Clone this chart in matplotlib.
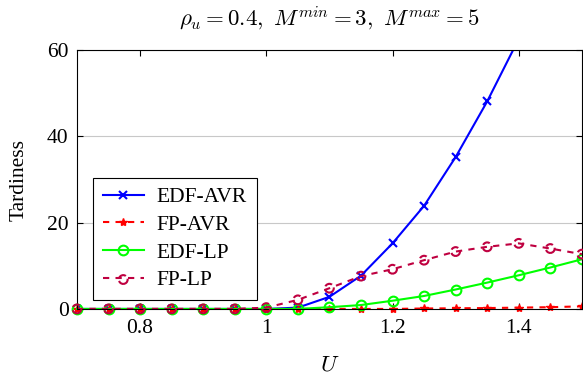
import numpy as np
import matplotlib.pyplot as plt
from matplotlib.legend_handler import HandlerTuple

plt.rcParams['font.family'] = ['Liberation Serif', 'DejaVu Serif']
plt.rcParams['mathtext.fontset'] = 'cm'

# data
u = [0.7, 0.75, 0.8, 0.85, 0.9, 0.95, 1.0, 1.05, 1.1, 1.15,
     1.2, 1.25, 1.3, 1.35, 1.4, 1.45, 1.5]
edf_avr = [0, 0, 0, 0, 0, 0, 0, 0.3, 2.8, 7.7,
           15.2, 23.9, 35.2, 48.1, 62.6, 78.5, 95.5]
fp_avr = [0, 0, 0, 0, 0, 0, 0, 0, 0, 0,
          0, 0.1, 0.15, 0.2, 0.3, 0.4, 0.6]
edf_lp = [0, 0, 0, 0, 0, 0, 0, 0, 0.4, 0.9,
          1.9, 3.0, 4.5, 6.1, 7.8, 9.6, 11.5]
fp_lp = [0, 0, 0, 0, 0, 0, 0.3, 2.1, 4.8, 7.6,
         9.2, 11.3, 13.3, 14.4, 15.2, 14.0, 12.7]

purple = (0.75, 0.0, 0.25)
fs = 15.5

fig = plt.figure(figsize=(5.83, 3.74), dpi=100)
ax = fig.add_axes([0.132, 0.174, 0.866, 0.692])

l1, = ax.plot(u, edf_avr, color='blue', lw=1.5, marker='x', ms=6, mew=1.5,
              label='EDF-AVR', clip_on=True)
l2, = ax.plot(u, fp_avr, color='red', lw=1.5, ls=(0, (3, 3)), marker='*',
              ms=6, label='FP-AVR', clip_on=False)
l3, = ax.plot(u, edf_lp, color=(0, 1, 0), lw=1.5, marker='o', ms=7,
              mfc='none', mew=1.5, label='EDF-LP', clip_on=False)
l4, = ax.plot(u, fp_lp, color=purple, lw=1.5, ls=(0, (3, 3)), label='FP-LP',
              clip_on=False)
s4 = ax.scatter(u, fp_lp, s=40, facecolors='none', edgecolors=purple,
                linewidths=1.5, linestyles='--', clip_on=False, zorder=3)

ax.set_xlim(0.7, 1.5)
ax.set_ylim(0, 60)
ax.set_xticks([0.8, 1.0, 1.2, 1.4])
ax.set_xticklabels(['0.8', '1', '1.2', '1.4'])
ax.set_yticks([0, 20, 40, 60])
ax.tick_params(direction='in', top=True, right=True, labelsize=fs, length=4)
ax.tick_params(axis='x', pad=7)
ax.tick_params(axis='y', pad=6)
ax.yaxis.grid(True, color='#c8c8c8', lw=0.8)
ax.set_axisbelow(True)

ax.set_xlabel('$U$', fontsize=fs + 1, labelpad=12)
ax.set_ylabel('Tardiness', fontsize=fs, labelpad=13)
ax.set_title(r'$\rho_u = 0.4,\ M^{min} = 3,\ M^{max} = 5$', fontsize=16.5, pad=18)

leg = ax.legend([l1, l2, l3, (l4, s4)], ['EDF-AVR', 'FP-AVR', 'EDF-LP', 'FP-LP'],
                handler_map={tuple: HandlerTuple(ndivide=1)},
                loc='lower left', bbox_to_anchor=(0.032, 0.035), borderaxespad=0,
                fontsize=fs, fancybox=False, edgecolor='black', framealpha=1,
                handlelength=1.9, borderpad=0.45, labelspacing=0.35,
                handletextpad=0.6)
leg.get_frame().set_linewidth(0.8)

fig.savefig('out.png', dpi=100)
